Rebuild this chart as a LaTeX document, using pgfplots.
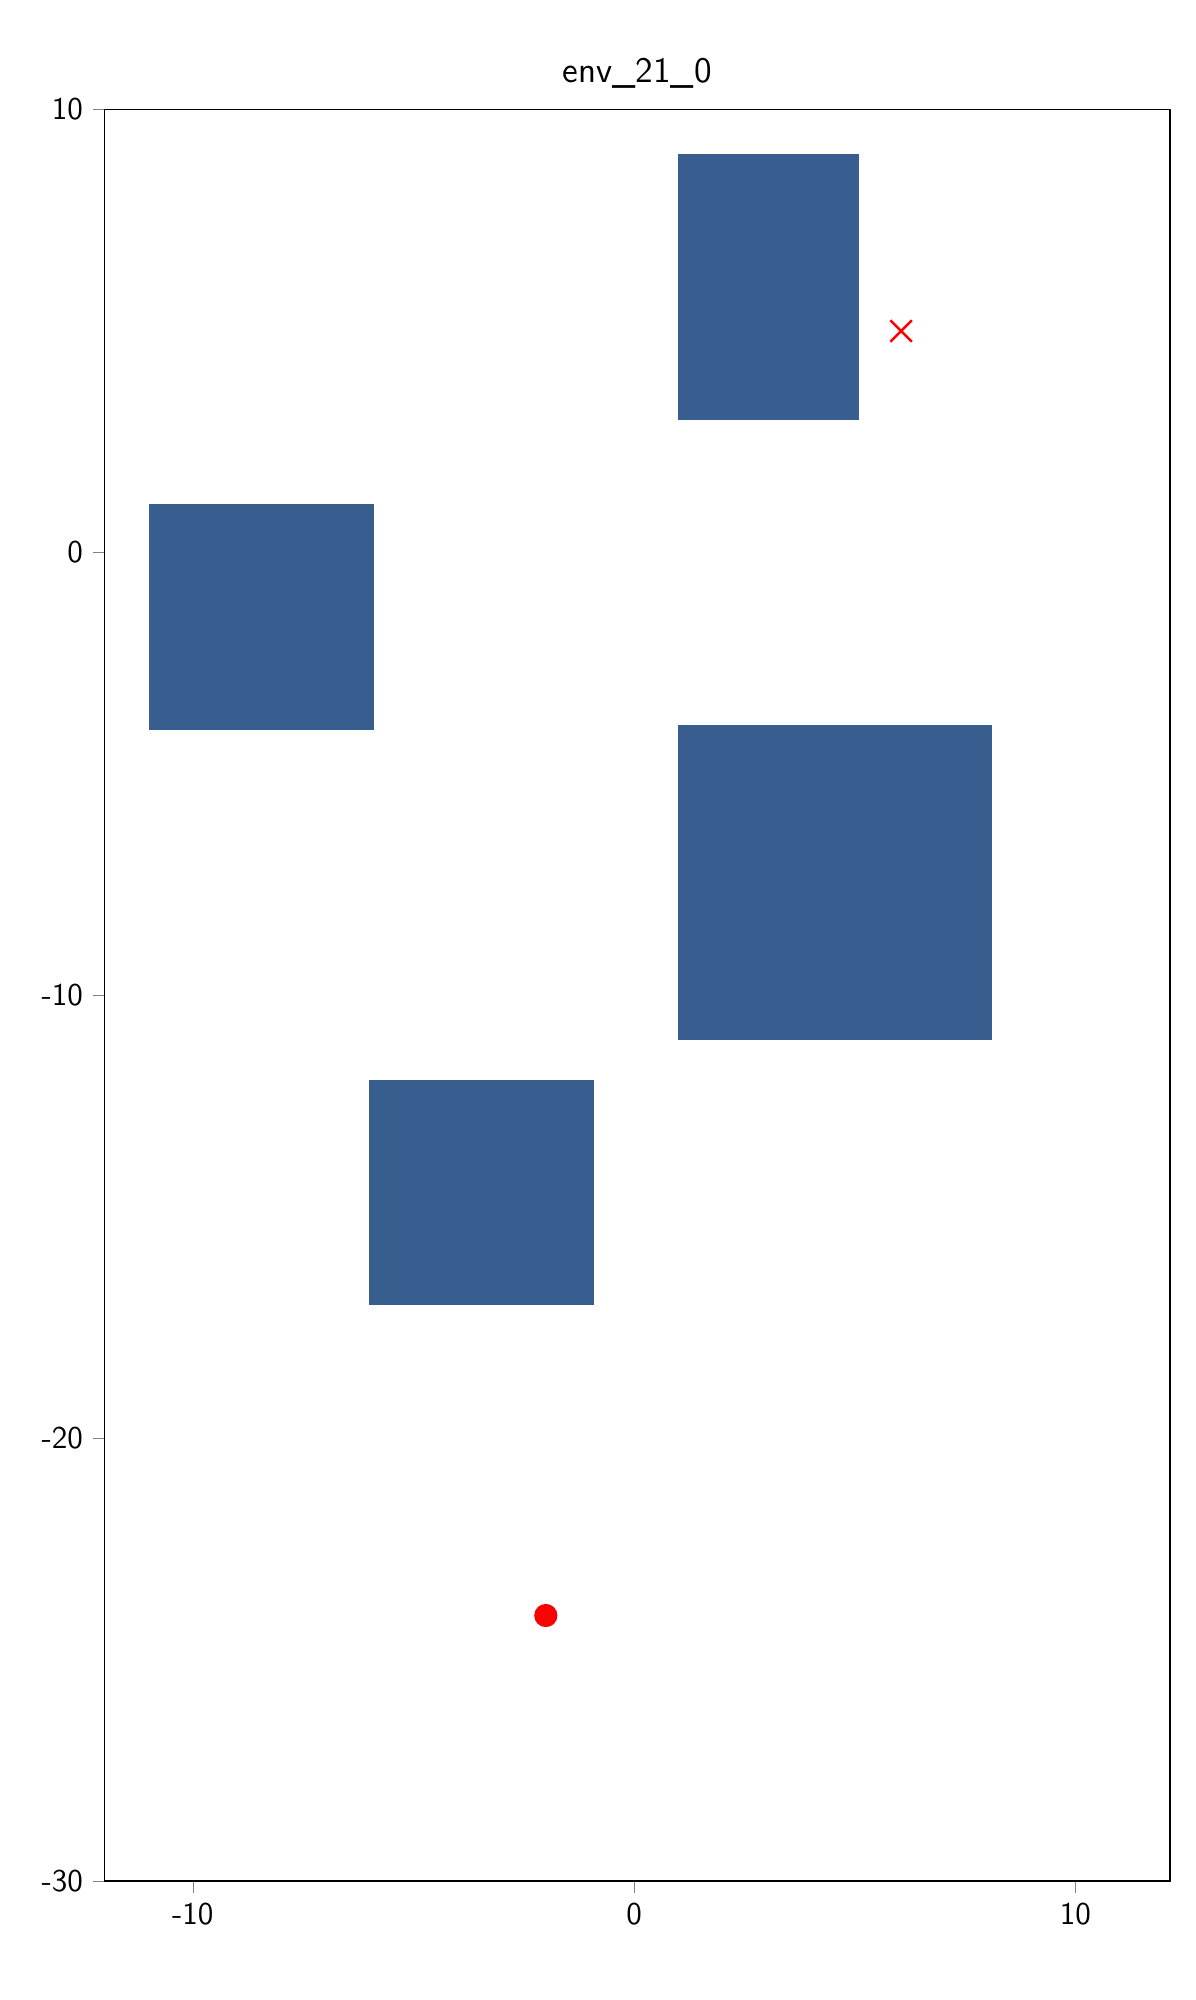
\documentclass[border=0pt]{standalone}
\usepackage{pgfplots}
\pgfplotsset{compat=1.18}
\definecolor{obs}{HTML}{375E8F}
\begin{document}
\sffamily
\begin{tikzpicture}
\useasboundingbox (-0.0875*433pt,-0.067*642pt) rectangle (386pt+0.0215*433pt,642pt+0.055*722pt);
\begin{axis}[scale only axis, width=386pt, height=642pt,
 xmin=-12, xmax=12.14, ymin=-30, ymax=10,
 xtick={-10,0,10}, ytick={-30,-20,-10,0,10},
 tick align=outside, tick pos=left,
 title={env\_21\_0}, title style={font=\sffamily\fontsize{13}{15}\selectfont, yshift=-2pt},
 ticklabel style={font=\sffamily\fontsize{11.5}{13}\selectfont},
 /pgf/number format/assume math mode=true,
 axis line style={line width=0.6pt}]
\addplot[fill=obs, draw=none] coordinates {(1,3) (5.1,3) (5.1,9) (1,9)} --cycle;
\addplot[fill=obs, draw=none] coordinates {(-11,-4) (-5.9,-4) (-5.9,1.1) (-11,1.1)} --cycle;
\addplot[fill=obs, draw=none] coordinates {(1,-11) (8.1,-11) (8.1,-3.9) (1,-3.9)} --cycle;
\addplot[fill=obs, draw=none] coordinates {(-6,-17) (-0.9,-17) (-0.9,-11.9) (-6,-11.9)} --cycle;
\addplot[only marks, mark=x, red, mark size=5.5pt, line width=0.9pt] coordinates {(6.05,5)};
\addplot[only marks, mark=*, red, mark size=4pt] coordinates {(-2,-24)};
\end{axis}
\end{tikzpicture}
\end{document}
